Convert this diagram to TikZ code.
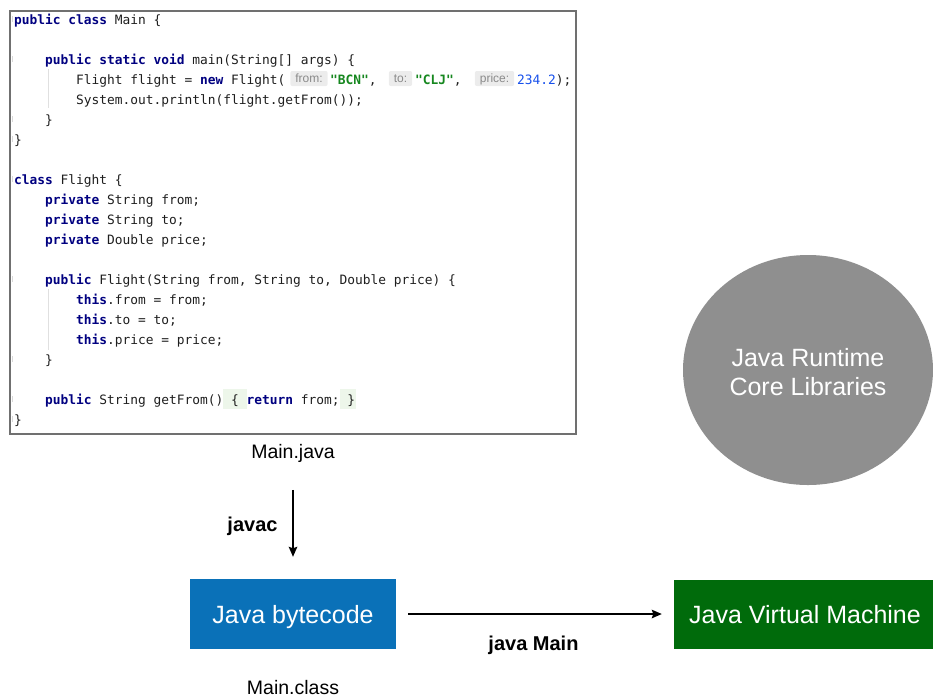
\documentclass[tikz,border=0pt]{standalone}
\usepackage{fontspec}
\setmainfont{Liberation Sans}
\newfontfamily\codefont{DejaVu Sans Mono}
\usetikzlibrary{shapes.geometric,arrows.meta}

\definecolor{kwnavy}{HTML}{000080}
\definecolor{strgreen}{HTML}{16871F}
\definecolor{numblue}{HTML}{1750EB}
\definecolor{codetxt}{HTML}{1E1E1E}
\definecolor{hintbg}{HTML}{ECECEC}
\definecolor{hinttxt}{HTML}{8A8A8A}
\definecolor{foldbg}{HTML}{EDF6EA}
\definecolor{frame}{HTML}{707070}
\definecolor{bcblue}{HTML}{0A71B8}
\definecolor{jvmgreen}{HTML}{006B0B}
\definecolor{jrtgray}{HTML}{8F8F8F}

\newcommand\kw[1]{\textbf{\textcolor{kwnavy}{#1}}}
\newcommand\jstr[1]{\textbf{\textcolor{strgreen}{#1}}}
\newcommand\jnum[1]{\textcolor{numblue}{#1}}

\tikzset{
  codeln/.style={anchor=base west, inner sep=0pt, text=codetxt,
    font=\codefont\fontsize{12.87}{15}\selectfont\frenchspacing},
  hint/.style={fill=hintbg, rounded corners=2pt, inner xsep=5pt, inner ysep=0pt,
    minimum height=15pt, text height=9.4pt, text depth=1.2pt, text=hinttxt,
    font=\fontsize{12}{14}\selectfont},
  foldbox/.style={fill=foldbg, draw=none},
  guide/.style={draw=black!12, line width=0.8pt},
  gutter/.style={draw=black!15, line width=1.6pt},
  caption/.style={anchor=base, inner sep=0pt, font=\fontsize{19.5}{23}\selectfont},
  cmd/.style={anchor=base, inner sep=0pt, font=\bfseries\fontsize{20}{24}\selectfont},
  stagebox/.style={inner sep=0pt, text=white, text height=18pt, text depth=0pt,
    font=\fontsize{25}{30}\selectfont},
  arr/.style={line width=1.6pt, -{Stealth[length=10pt,width=8.5pt,inset=1.5pt]}},
}

\begin{document}
\begin{tikzpicture}[x=1pt,y=-1pt]
\useasboundingbox (0,0) rectangle (933,697);

% --- source listing ---------------------------------------------------
\fill[foldbox] (223,389) rectangle (247,409);
\fill[foldbox] (340,389) rectangle (356,409);
\draw[guide] (48,69) -- (48,108);
\draw[guide] (48,289) -- (48,350);
\foreach \y in {19,59,119,139,179,279,359,399,419}
  \draw[gutter] (12.5,\y-3) -- (12.5,\y+3);

\node[draw=frame, line width=1.5pt, minimum width=566pt, minimum height=423pt,
      inner sep=0pt] (code) at (293,222.5) {};

\node[codeln] (l1)  at (14,24)  {\kw{public} \kw{class} Main \{};
\node[codeln] (l3)  at (45,64)  {\kw{public} \kw{static} \kw{void} main(String[] args) \{};
\node[codeln] (l4a) at (76,84)  {Flight flight = \kw{new} Flight(};
\node[hint]   (h1)  at (309,78.5) {from:};
\node[codeln] (l4b) at (330,84) {\jstr{"BCN"},};
\node[hint]   (h2)  at (400.5,78.5) {to:};
\node[codeln] (l4c) at (415,84) {\jstr{"CLJ"},};
\node[hint]   (h3)  at (494.5,78.5) {price:};
\node[codeln] (l4d) at (517,84) {\jnum{234.2});};
\node[codeln] (l5)  at (76,104) {System.out.println(flight.getFrom());};
\node[codeln] (l6)  at (45,124) {\}};
\node[codeln] (l7)  at (14,144) {\}};
\node[codeln] (l9)  at (14,184) {\kw{class} Flight \{};
\node[codeln] (l10) at (45,204) {\kw{private} String from;};
\node[codeln] (l11) at (45,224) {\kw{private} String to;};
\node[codeln] (l12) at (45,244) {\kw{private} Double price;};
\node[codeln] (l14) at (45,284) {\kw{public} Flight(String from, String to, Double price) \{};
\node[codeln] (l15) at (76,304) {\kw{this}.from = from;};
\node[codeln] (l16) at (76,324) {\kw{this}.to = to;};
\node[codeln] (l17) at (76,344) {\kw{this}.price = price;};
\node[codeln] (l18) at (45,364) {\}};
\node[codeln] (l20) at (45,404) {\kw{public} String getFrom() \{ \kw{return} from; \}};
\node[codeln] (l21) at (14,424) {\}};

\node[caption] (mainjava) at (293,458) {Main.java};

% --- compilation and execution ----------------------------------------
\node[stagebox, fill=bcblue, minimum width=206pt, minimum height=70pt]
  (bytecode) at (293,614) {Java bytecode};
\node[caption] (mainclass) at (293,694.5) {Main.class};

\node[stagebox, fill=jvmgreen, minimum width=268pt, minimum height=69pt]
  (jvm) at (808,614) {\hspace*{-6pt}Java Virtual Machine};

\node[ellipse, fill=jrtgray, minimum width=250pt, minimum height=230pt, inner sep=0pt]
  (jrt) at (808,370) {};
\node[text=white, align=center, inner sep=0pt, font=\fontsize{25}{29}\selectfont]
  (jrtlabel) at (808,372) {Java Runtime\\Core Libraries};

\draw[arr] ([yshift=-37pt]mainjava.center) -- ([yshift=22pt]bytecode.north);
\node[cmd] (javac) at (252.5,531.5) {javac};

\draw[arr] ([xshift=12pt]bytecode.east) -- ([xshift=-12pt]jvm.west);
\node[cmd] (javamain) at (533.5,650.5) {java Main};
\end{tikzpicture}
\end{document}
